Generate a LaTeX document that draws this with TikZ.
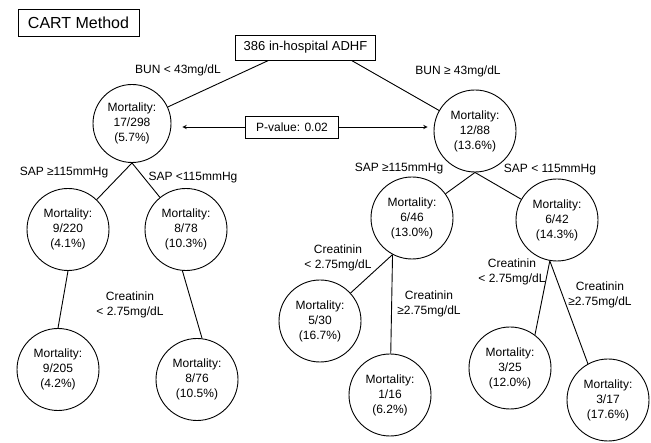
\documentclass[tikz,border=0pt]{standalone}
\usepackage{fontspec}
\setmainfont{Liberation Sans}
\usetikzlibrary{arrows,positioning}

\begin{document}
\begin{tikzpicture}[x=1pt,y=-1pt,on grid,line width=0.9pt,font=\fontsize{12}{15}\selectfont]
       \tikzstyle{mort}=[draw,circle,minimum size=82pt,inner sep=0pt,align=center]
       \tikzstyle{box}=[draw,rectangle,inner ysep=0pt]
       \tikzstyle{cond}=[align=center,inner sep=1pt]

       \useasboundingbox (0,0) rectangle (651,443);

       \node[box, font=\fontsize{16}{18}\selectfont, inner xsep=10pt, minimum height=27pt] (title) at (78.5,22.5) {CART Method};
       \node[box, font=\fontsize{13}{15}\selectfont, inner xsep=8.5pt, minimum height=25pt] (root) at (305.5,47.5) {386 in-hospital ADHF};

       \node[mort, minimum size=78pt] (s_l) [below left=76pt and 173.5pt of root] {Mortality:\\17/298\\(5.7\%)};
       \node[mort] (s_r) [below right=83.5pt and 169.5pt of root] {Mortality:\\12/88\\(13.6\%)};
       \node[box, inner xsep=10.5pt, minimum height=22pt] (pval) at (292,127) {P-value: 0.02};

       \node[mort] (s_ll) [below left=106pt and 64pt of s_l] {Mortality:\\9/220\\(4.1\%)};
       \node[mort] (s_lr) [below right=106pt and 54pt of s_l] {Mortality:\\8/78\\(10.3\%)};
       \node[mort] (s_lll) [below left=140pt and 10pt of s_ll] {Mortality:\\9/205\\(4.2\%)};
       \node[mort] (s_lrr) [below right=150pt and 11pt of s_lr] {Mortality:\\8/76\\(10.5\%)};

       \node[mort] (s_rl) [below left=87pt and 63pt of s_r] {Mortality:\\6/46\\(13.0\%)};
       \node[mort] (s_rr) [below right=89pt and 82pt of s_r] {Mortality:\\6/42\\(14.3\%)};
       \node[mort] (s_rll) [below left=103pt and 92pt of s_rl] {Mortality:\\5/30\\(16.7\%)};
       \node[mort] (s_rlr) [below left=177pt and 22pt of s_rl] {Mortality:\\1/16\\(6.2\%)};
       \node[mort] (s_rrl) [below left=148pt and 47pt of s_rr] {Mortality:\\3/25\\(12.0\%)};
       \node[mort] (s_rrr) [below right=180pt and 51pt of s_rr] {Mortality:\\3/17\\(17.6\%)};

       % split conditions
       \node[cond] (c_l) at (178,70) {BUN < 43mg/dL};
       \node[cond] (c_r) at (458,71) {BUN ≥ 43mg/dL};
       \node[cond] (c_ll) at (64,173) {SAP ≥115mmHg};
       \node[cond] (c_lr) at (193,178) {SAP <115mmHg};
       \node[cond] (c_lrr) at (130,305) {Creatinin\\< 2.75mg/dL};
       \node[cond] (c_rl) at (399,169) {SAP ≥115mmHg};
       \node[cond] (c_rr) at (550,170) {SAP < 115mmHg};
       \node[cond] (c_rll) at (338,258) {Creatinin\\< 2.75mg/dL};
       \node[cond] (c_rlr) at (429,304) {Creatinin\\≥2.75mg/dL};
       \node[cond] (c_rrl) at (512,272) {Creatinin\\< 2.75mg/dL};
       \node[cond] (c_rrr) at (600,295) {Creatinin\\≥2.75mg/dL};

       \draw ([xshift=-37pt]root.south) -- (s_l);
       \draw ([xshift=46pt]root.south) -- (s_r);

       \path[draw]
       (s_l.south) -- (s_ll)
       (s_l.south) -- (s_lr)
       (s_ll.south) -- (s_lll.north)
       (s_lr.-95) -- (s_lrr.83);

       \path[draw]
       (s_r.south) -- (s_rl)
       (s_r.south) -- (s_rr)
       (s_rl.-118) -- (s_rll)
       (s_rl.-118) -- (s_rlr)
       (s_rr.-100) -- (s_rrl.53)
       (s_rr.-100) -- (s_rrr.119);

       \draw[-stealth, shorten >=11pt] (pval.west) -- (s_l.east |- pval.west);
       \draw[-stealth, shorten >=6pt] (pval.east) -- (s_r.west |- pval.east);

     \end{tikzpicture}
\end{document}
